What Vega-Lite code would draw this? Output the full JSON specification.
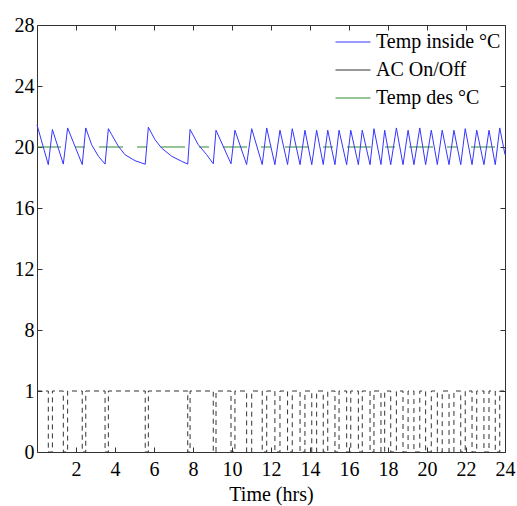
{
  "$schema": "https://vega.github.io/schema/vega-lite/v6.json",
  "width": 468,
  "height": 427,
  "autosize": {"type": "none"},
  "padding": {"left": 37, "top": 25, "right": 12, "bottom": 54},
  "background": "white",
  "config": {
    "view": {"stroke": null},
    "font": "Liberation Serif",
    "axis": {
      "grid": false,
      "domainColor": "#333",
      "tickColor": "#333",
      "tickSize": -5,
      "labelFlush": false,
      "labelFont": "Liberation Serif",
      "labelFontSize": 20,
      "labelColor": "#000",
      "titleFont": "Liberation Serif",
      "titleFontSize": 20,
      "titleFontWeight": "normal",
      "titleColor": "#000"
    },
    "legend": {
      "labelFont": "Liberation Serif",
      "labelFontSize": 20,
      "labelColor": "#000",
      "labelLimit": 300
    }
  },
  "datasets": {
    "temp": [
      {"t": 0, "value": 21.45, "series": "Temp inside °C"},
      {"t": 0.58, "value": 18.84, "series": "Temp inside °C"},
      {"t": 0.79, "value": 21.15, "series": "Temp inside °C"},
      {"t": 1.35, "value": 18.88, "series": "Temp inside °C"},
      {"t": 1.57, "value": 21.25, "series": "Temp inside °C"},
      {"t": 2.32, "value": 18.85, "series": "Temp inside °C"},
      {"t": 2.5, "value": 21.25, "series": "Temp inside °C"},
      {"t": 2.8, "value": 20.15, "series": "Temp inside °C"},
      {"t": 3.15, "value": 19.39, "series": "Temp inside °C"},
      {"t": 3.49, "value": 18.88, "series": "Temp inside °C"},
      {"t": 3.66, "value": 21.2, "series": "Temp inside °C"},
      {"t": 3.83, "value": 20.81, "series": "Temp inside °C"},
      {"t": 4.17, "value": 20.05, "series": "Temp inside °C"},
      {"t": 4.51, "value": 19.5, "series": "Temp inside °C"},
      {"t": 5.03, "value": 19.1, "series": "Temp inside °C"},
      {"t": 5.37, "value": 18.95, "series": "Temp inside °C"},
      {"t": 5.55, "value": 18.87, "series": "Temp inside °C"},
      {"t": 5.71, "value": 21.3, "series": "Temp inside °C"},
      {"t": 6.05, "value": 20.48, "series": "Temp inside °C"},
      {"t": 6.39, "value": 19.93, "series": "Temp inside °C"},
      {"t": 6.91, "value": 19.39, "series": "Temp inside °C"},
      {"t": 7.42, "value": 19.06, "series": "Temp inside °C"},
      {"t": 7.73, "value": 18.88, "series": "Temp inside °C"},
      {"t": 7.85, "value": 21.15, "series": "Temp inside °C"},
      {"t": 8.27, "value": 20.15, "series": "Temp inside °C"},
      {"t": 8.7, "value": 19.5, "series": "Temp inside °C"},
      {"t": 9.04, "value": 18.9, "series": "Temp inside °C"},
      {"t": 9.18, "value": 21.1, "series": "Temp inside °C"},
      {"t": 9.95, "value": 18.9, "series": "Temp inside °C"},
      {"t": 10.15, "value": 21.1, "series": "Temp inside °C"},
      {"t": 10.75, "value": 18.85, "series": "Temp inside °C"},
      {"t": 11.01, "value": 21.2, "series": "Temp inside °C"},
      {"t": 11.55, "value": 18.85, "series": "Temp inside °C"},
      {"t": 11.78, "value": 21.25, "series": "Temp inside °C"},
      {"t": 12.2, "value": 18.84, "series": "Temp inside °C"},
      {"t": 12.46, "value": 21.1, "series": "Temp inside °C"},
      {"t": 12.85, "value": 18.85, "series": "Temp inside °C"},
      {"t": 13.09, "value": 21.2, "series": "Temp inside °C"},
      {"t": 13.49, "value": 18.84, "series": "Temp inside °C"},
      {"t": 13.74, "value": 21.1, "series": "Temp inside °C"},
      {"t": 14.09, "value": 18.84, "series": "Temp inside °C"},
      {"t": 14.34, "value": 21.1, "series": "Temp inside °C"},
      {"t": 14.68, "value": 18.85, "series": "Temp inside °C"},
      {"t": 14.91, "value": 21.1, "series": "Temp inside °C"},
      {"t": 15.28, "value": 18.84, "series": "Temp inside °C"},
      {"t": 15.49, "value": 21.1, "series": "Temp inside °C"},
      {"t": 15.88, "value": 18.84, "series": "Temp inside °C"},
      {"t": 16.09, "value": 21.1, "series": "Temp inside °C"},
      {"t": 16.48, "value": 18.84, "series": "Temp inside °C"},
      {"t": 16.68, "value": 21.1, "series": "Temp inside °C"},
      {"t": 17.08, "value": 18.84, "series": "Temp inside °C"},
      {"t": 17.28, "value": 21.2, "series": "Temp inside °C"},
      {"t": 17.64, "value": 18.85, "series": "Temp inside °C"},
      {"t": 17.83, "value": 21.1, "series": "Temp inside °C"},
      {"t": 18.14, "value": 18.84, "series": "Temp inside °C"},
      {"t": 18.43, "value": 21.25, "series": "Temp inside °C"},
      {"t": 18.77, "value": 18.84, "series": "Temp inside °C"},
      {"t": 19.03, "value": 21.1, "series": "Temp inside °C"},
      {"t": 19.33, "value": 18.84, "series": "Temp inside °C"},
      {"t": 19.63, "value": 21.25, "series": "Temp inside °C"},
      {"t": 19.93, "value": 18.84, "series": "Temp inside °C"},
      {"t": 20.22, "value": 21.1, "series": "Temp inside °C"},
      {"t": 20.53, "value": 18.85, "series": "Temp inside °C"},
      {"t": 20.78, "value": 21.1, "series": "Temp inside °C"},
      {"t": 21.13, "value": 18.84, "series": "Temp inside °C"},
      {"t": 21.38, "value": 21.1, "series": "Temp inside °C"},
      {"t": 21.73, "value": 18.84, "series": "Temp inside °C"},
      {"t": 21.96, "value": 21.2, "series": "Temp inside °C"},
      {"t": 22.31, "value": 18.84, "series": "Temp inside °C"},
      {"t": 22.55, "value": 21.1, "series": "Temp inside °C"},
      {"t": 22.92, "value": 18.84, "series": "Temp inside °C"},
      {"t": 23.18, "value": 21.1, "series": "Temp inside °C"},
      {"t": 23.5, "value": 18.84, "series": "Temp inside °C"},
      {"t": 23.73, "value": 21.25, "series": "Temp inside °C"},
      {"t": 24, "value": 19.5, "series": "Temp inside °C"}
    ],
    "ac": [
      {"t": 0, "state": 1, "series": "AC On/Off"},
      {"t": 0.58, "state": 0, "series": "AC On/Off"},
      {"t": 0.79, "state": 1, "series": "AC On/Off"},
      {"t": 1.35, "state": 0, "series": "AC On/Off"},
      {"t": 1.57, "state": 1, "series": "AC On/Off"},
      {"t": 2.32, "state": 0, "series": "AC On/Off"},
      {"t": 2.5, "state": 1, "series": "AC On/Off"},
      {"t": 3.49, "state": 0, "series": "AC On/Off"},
      {"t": 3.66, "state": 1, "series": "AC On/Off"},
      {"t": 5.55, "state": 0, "series": "AC On/Off"},
      {"t": 5.71, "state": 1, "series": "AC On/Off"},
      {"t": 7.73, "state": 0, "series": "AC On/Off"},
      {"t": 7.85, "state": 1, "series": "AC On/Off"},
      {"t": 9.04, "state": 0, "series": "AC On/Off"},
      {"t": 9.18, "state": 1, "series": "AC On/Off"},
      {"t": 9.95, "state": 0, "series": "AC On/Off"},
      {"t": 10.15, "state": 1, "series": "AC On/Off"},
      {"t": 10.75, "state": 0, "series": "AC On/Off"},
      {"t": 11.01, "state": 1, "series": "AC On/Off"},
      {"t": 11.55, "state": 0, "series": "AC On/Off"},
      {"t": 11.78, "state": 1, "series": "AC On/Off"},
      {"t": 12.2, "state": 0, "series": "AC On/Off"},
      {"t": 12.46, "state": 1, "series": "AC On/Off"},
      {"t": 12.85, "state": 0, "series": "AC On/Off"},
      {"t": 13.09, "state": 1, "series": "AC On/Off"},
      {"t": 13.49, "state": 0, "series": "AC On/Off"},
      {"t": 13.74, "state": 1, "series": "AC On/Off"},
      {"t": 14.09, "state": 0, "series": "AC On/Off"},
      {"t": 14.34, "state": 1, "series": "AC On/Off"},
      {"t": 14.68, "state": 0, "series": "AC On/Off"},
      {"t": 14.91, "state": 1, "series": "AC On/Off"},
      {"t": 15.28, "state": 0, "series": "AC On/Off"},
      {"t": 15.49, "state": 1, "series": "AC On/Off"},
      {"t": 15.88, "state": 0, "series": "AC On/Off"},
      {"t": 16.09, "state": 1, "series": "AC On/Off"},
      {"t": 16.48, "state": 0, "series": "AC On/Off"},
      {"t": 16.68, "state": 1, "series": "AC On/Off"},
      {"t": 17.08, "state": 0, "series": "AC On/Off"},
      {"t": 17.28, "state": 1, "series": "AC On/Off"},
      {"t": 17.64, "state": 0, "series": "AC On/Off"},
      {"t": 17.83, "state": 1, "series": "AC On/Off"},
      {"t": 18.14, "state": 0, "series": "AC On/Off"},
      {"t": 18.43, "state": 1, "series": "AC On/Off"},
      {"t": 18.77, "state": 0, "series": "AC On/Off"},
      {"t": 19.03, "state": 1, "series": "AC On/Off"},
      {"t": 19.33, "state": 0, "series": "AC On/Off"},
      {"t": 19.63, "state": 1, "series": "AC On/Off"},
      {"t": 19.93, "state": 0, "series": "AC On/Off"},
      {"t": 20.22, "state": 1, "series": "AC On/Off"},
      {"t": 20.53, "state": 0, "series": "AC On/Off"},
      {"t": 20.78, "state": 1, "series": "AC On/Off"},
      {"t": 21.13, "state": 0, "series": "AC On/Off"},
      {"t": 21.38, "state": 1, "series": "AC On/Off"},
      {"t": 21.73, "state": 0, "series": "AC On/Off"},
      {"t": 21.96, "state": 1, "series": "AC On/Off"},
      {"t": 22.31, "state": 0, "series": "AC On/Off"},
      {"t": 22.55, "state": 1, "series": "AC On/Off"},
      {"t": 22.92, "state": 0, "series": "AC On/Off"},
      {"t": 23.18, "state": 1, "series": "AC On/Off"},
      {"t": 23.5, "state": 0, "series": "AC On/Off"},
      {"t": 23.73, "state": 1, "series": "AC On/Off"},
      {"t": 24, "state": 1, "series": "AC On/Off"}
    ],
    "des": [
      {"t": 0, "value": 20, "series": "Temp des °C"},
      {"t": 24, "value": 20, "series": "Temp des °C"}
    ]
  },
  "resolve": {"scale": {"y": "independent"}, "axis": {"x": "independent"}},
  "layer": [
    {
      "data": {"name": "des"},
      "mark": {"type": "line", "strokeWidth": 1, "strokeDash": [24, 14, 10, 14]},
      "encoding": {
        "x": {"field": "t", "type": "quantitative", "scale": {"domain": [0, 24], "nice": false},
              "axis": {"orient": "top", "values": [2, 4, 6, 8, 10, 12, 14, 16, 18, 20, 22, 24], "labels": false, "title": null}},
        "y": {"field": "value", "type": "quantitative", "scale": {"domain": [0, 28], "nice": false}, "axis": null},
        "color": {"field": "series", "type": "nominal",
                  "scale": {"domain": ["Temp inside °C", "AC On/Off", "Temp des °C"], "range": ["#3535ff", "#333333", "#2e8b2e"]},
                  "legend": {"title": null, "orient": "none", "legendX": 298, "legendY": -1, "symbolType": "stroke", "symbolSize": 1225, "symbolStrokeWidth": 1, "rowPadding": -15, "labelOffset": 5, "padding": 0}}
      }
    },
    {
      "data": {"name": "ac"},
      "mark": {"type": "line", "strokeWidth": 1, "strokeDash": [5, 4], "interpolate": "step-after"},
      "encoding": {
        "x": {"field": "t", "type": "quantitative", "scale": {"domain": [0, 24], "nice": false}, "axis": null},
        "y": {"field": "state", "type": "quantitative", "scale": {"domain": [0, 7], "nice": false},
              "axis": {"orient": "right", "values": [0, 1, 2, 3, 4, 5, 6, 7], "labels": false, "title": null}},
        "color": {"field": "series", "type": "nominal"}
      }
    },
    {
      "data": {"name": "temp"},
      "mark": {"type": "line", "strokeWidth": 1},
      "encoding": {
        "x": {"field": "t", "type": "quantitative", "scale": {"domain": [0, 24], "nice": false},
              "axis": {"orient": "bottom", "values": [2, 4, 6, 8, 10, 12, 14, 16, 18, 20, 22, 24], "labelPadding": 12, "title": "Time (hrs)", "titleY": 42, "titleBaseline": "middle", "titleAnchor": "middle"}},
        "y": {"field": "value", "type": "quantitative", "scale": {"domain": [0, 28], "nice": false},
              "axis": {"orient": "left", "values": [0, 4, 8, 12, 16, 20, 24, 28], "labelExpr": "datum.value == 4 ? '1' : datum.label", "labelPadding": 8, "title": null}},
        "color": {"field": "series", "type": "nominal"}
      }
    }
  ]
}
